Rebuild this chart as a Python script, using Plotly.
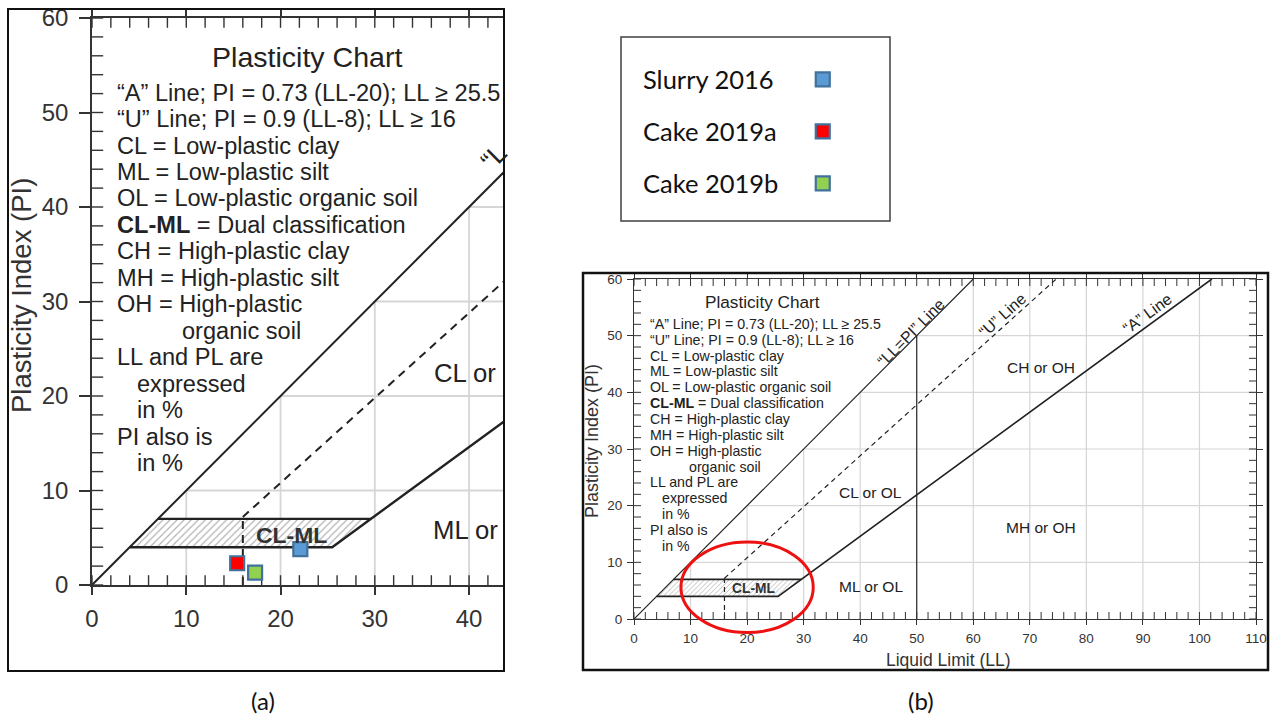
import plotly.graph_objects as go

W, H = 1273, 724

# ---------------- data ----------------
series_names = ["Slurry 2016", "Cake 2019a", "Cake 2019b"]
series_ll = [22.1, 15.4, 17.3]
series_pi = [3.8, 2.3, 1.3]
series_colors = ["#5B9BD5", "#FF0000", "#92D050"]
series_edge = "#41719C"

a_slope, a_ll0, a_start = 0.73, 20.0, 25.5
u_slope, u_ll0, u_start = 0.9, 8.0, 16.0
clml_pi = [4.0, 7.0]
ll_split = 50.0
pi_max = 60.0
ll_max_full = 110.0
ll_max_zoom = 43.6
grid_step = 10
minor_step = 2

chart_title = "Plasticity Chart"
key_lines = [
    "“A” Line; PI = 0.73 (LL-20); LL ≥ 25.5",
    "“U” Line; PI = 0.9 (LL-8); LL ≥ 16",
    "CL = Low-plastic clay",
    "ML = Low-plastic silt",
    "OL = Low-plastic organic soil",
    "<b>CL-ML</b> = Dual classification",
    "CH = High-plastic clay",
    "MH = High-plastic silt",
    "OH = High-plastic",
    "organic soil",
    "LL and PL are",
    "expressed",
    "in %",
    "PI also is",
    "in %",
]
key_indent = [2.45] * 9 + [9.3, 2.45, 4.6, 4.6, 2.45, 4.6]

labels_full = ["CH or OH", "CL or OL", "ML or OL", "MH or OH"]
labels_full_pos = [(71.9, 44.4, "center"), (35.9, 22.3, "left"), (35.9, 5.7, "left"), (71.9, 16.2, "center")]
labels_zoom = ["CL or", "ML or"]
labels_zoom_pos = [(36.1, 22.4), (36.0, 5.8)]
clml_label = "CL-ML"
line_labels = ["“LL=PI” Line", "“U” Line", "“A” Line"]
line_label_pos = [(49.0, 50.6, -45), (65.1, 53.6, -42), (90.8, 54.0, -36)]

x_title = "Liquid Limit (LL)"
y_title = "Plasticity Index (PI)"
captions = ["(a)", "(b)"]

# ---------------- helpers ----------------
def fx(p):
    return p / W


def fy(p):
    return 1 - p / H


TXT = "#222222"
AX = "#333333"
FONT = "Liberation Sans, Arial, sans-serif"

# panel pixel boxes (left, right, bottom, top)
A_BOX = (92, 503, 585, 18)
B_BOX = (634, 1256, 619, 279)

fig = go.Figure()


def add_chart(xa, ya, xmax, lw, lw_thin, dash, pat, gridw):
    # grid (visible only below the LL=PI line)
    gx, gy = [], []
    k = grid_step
    while k < pi_max:
        if k < xmax:
            gx += [k, xmax, None]
            gy += [k, k, None]
        k += grid_step
    k = grid_step
    while k < xmax:
        if k != ll_split:
            gx += [k, k, None]
            gy += [0, min(k, pi_max), None]
        k += grid_step
    fig.add_trace(go.Scatter(x=gx, y=gy, mode="lines", xaxis=xa, yaxis=ya,
                             line=dict(color="#d6d6d6", width=gridw),
                             hoverinfo="skip", showlegend=False))
    # hatched CL-ML zone
    lo, hi = clml_pi
    hx = [lo, a_ll0 + lo / a_slope, a_ll0 + hi / a_slope, hi, lo]
    hy = [lo, lo, hi, hi, lo]
    fig.add_trace(go.Scatter(x=hx, y=hy, mode="lines", fill="toself", xaxis=xa, yaxis=ya,
                             line=dict(width=0, color="rgba(0,0,0,0)"),
                             fillcolor="white",
                             fillpattern=dict(shape="/", fgcolor="#6a6a6a", bgcolor="white",
                                              size=pat, solidity=0.25),
                             hoverinfo="skip", showlegend=False))
    # U line (dashed) with vertical part at LL=16
    u_end = u_ll0 + pi_max / u_slope
    fig.add_trace(go.Scatter(x=[u_start, u_start, None, u_start, u_end],
                             y=[0, u_slope * (u_start - u_ll0), None,
                                u_slope * (u_start - u_ll0), pi_max],
                             mode="lines", xaxis=xa, yaxis=ya,
                             line=dict(color="#222", width=lw_thin, dash=dash),
                             hoverinfo="skip", showlegend=False))
    # LL = PI line
    fig.add_trace(go.Scatter(x=[0, pi_max], y=[0, pi_max], mode="lines", xaxis=xa, yaxis=ya,
                             line=dict(color="#222", width=lw_thin),
                             hoverinfo="skip", showlegend=False))
    # LL = 50 split
    fig.add_trace(go.Scatter(x=[ll_split, ll_split], y=[0, ll_split], mode="lines",
                             xaxis=xa, yaxis=ya, line=dict(color="#222", width=lw_thin),
                             hoverinfo="skip", showlegend=False))
    # A line + CL-ML outline
    a_end = a_ll0 + pi_max / a_slope
    fig.add_trace(go.Scatter(
        x=[lo, a_ll0 + lo / a_slope, a_end, None, hi, a_ll0 + hi / a_slope],
        y=[lo, lo, pi_max, None, hi, hi],
        mode="lines", xaxis=xa, yaxis=ya, line=dict(color="#222", width=lw),
        hoverinfo="skip", showlegend=False))


def add_minor_ticks(xa, ya, xmax, xlen, ylen, w, right_side):
    # small inward ticks every 2 units (outer half of each marker is clipped by the plot area)
    xs = list(range(0, int(xmax) + 1, minor_step))
    ys = list(range(0, int(pi_max) + 1, minor_step))
    mk = dict(color=AX, line=dict(color=AX, width=w))
    fig.add_trace(go.Scatter(x=xs + xs, y=[0] * len(xs) + [pi_max] * len(xs), mode="markers",
                             xaxis=xa, yaxis=ya, cliponaxis=True,
                             marker=dict(symbol="line-ns", size=2 * xlen, **mk),
                             hoverinfo="skip", showlegend=False))
    yx = [0] * len(ys) + ([xmax] * len(ys) if right_side else [])
    yy = ys + (ys if right_side else [])
    fig.add_trace(go.Scatter(x=yx, y=yy, mode="markers", xaxis=xa, yaxis=ya, cliponaxis=True,
                             marker=dict(symbol="line-ew", size=2 * ylen, **mk),
                             hoverinfo="skip", showlegend=False))


def add_text(xr, yr, s, zoom):
    fig.add_annotation(x=22.8, y=55.9, xref=xr, yref=yr, text=chart_title, showarrow=False,
                       xanchor="center", yanchor="middle",
                       font=dict(family=FONT, size=17.2 * s, color=TXT))
    for i, (t, ind) in enumerate(zip(key_lines, key_indent)):
        fig.add_annotation(x=ind, y=52.1 - 2.8 * i, xref=xr, yref=yr, text=t, showarrow=False,
                           xanchor="left", yanchor="middle",
                           font=dict(family=FONT, size=14.2 * s, color=TXT))
    fig.add_annotation(x=21.2, y=5.3, xref=xr, yref=yr, text="<b>" + clml_label + "</b>",
                       showarrow=False, xanchor="center", yanchor="middle",
                       font=dict(family=FONT, size=13.8 * s, color="#333"))
    if zoom:
        for t, (x, y) in zip(labels_zoom, labels_zoom_pos):
            fig.add_annotation(x=x, y=y, xref=xr, yref=yr, text=t, showarrow=False,
                               xanchor="left", yanchor="middle",
                               font=dict(family=FONT, size=15.5 * s, color=TXT))
        fig.add_annotation(x=42.6, y=45.3, xref=xr, yref=yr, text="“L", showarrow=False,
                           textangle=-45, xanchor="center", yanchor="middle",
                           font=dict(family=FONT, size=16 * s, color=TXT))
    else:
        for t, (x, y, anc) in zip(labels_full, labels_full_pos):
            fig.add_annotation(x=x, y=y, xref=xr, yref=yr, text=t, showarrow=False,
                               xanchor=anc, yanchor="middle",
                               font=dict(family=FONT, size=15.5 * s, color=TXT))
        for t, (x, y, ang) in zip(line_labels, line_label_pos):
            fig.add_annotation(x=x, y=y, xref=xr, yref=yr, text=t, showarrow=False,
                               textangle=ang, xanchor="center", yanchor="middle",
                               font=dict(family=FONT, size=16 * s, color=TXT))


S = 1.66
add_chart("x", "y", ll_max_zoom, 2.4, 2.0, "8px,6px", 5, 1.8)
add_chart("x2", "y2", ll_max_full, 1.6, 1.2, "5px,4px", 3.5, 1.2)
add_minor_ticks("x", "y", ll_max_zoom, 7, 8, 1.4, False)
add_minor_ticks("x2", "y2", ll_max_full, 5, 5, 1.0, True)

# data points on the zoomed chart
for n, ll, pi, c in zip(series_names, series_ll, series_pi, series_colors):
    fig.add_trace(go.Scatter(x=[ll], y=[pi], mode="markers", xaxis="x", yaxis="y", name=n,
                             marker=dict(symbol="square", size=14, color=c,
                                         line=dict(color=series_edge, width=2.2)),
                             showlegend=False))

# custom legend box (markers to the right of the names)
for i, (n, c) in enumerate(zip(series_names, series_colors)):
    fig.add_trace(go.Scatter(x=[0.75], y=[0.77 - 0.2825 * i], mode="markers", xaxis="x3", yaxis="y3",
                             marker=dict(symbol="square", size=14, color=c,
                                         line=dict(color=series_edge, width=2.2)),
                             hoverinfo="skip", showlegend=False))
    fig.add_annotation(x=0.074, y=0.77 - 0.2825 * i, xref="x3", yref="y3", text=n, showarrow=False,
                       xanchor="left", yanchor="middle",
                       font=dict(family="Lato, Carlito, sans-serif", size=25.5, color="#111"))

add_text("x", "y", S, True)
add_text("x2", "y2", 1, False)


def axis(box, horizontal, rng, dtick, ticklen, fsize, lw, standoff, mirror):
    if horizontal:
        dom = [fx(box[0]), fx(box[1])]
    else:
        dom = [fy(box[2]), fy(box[3])]
    return dict(domain=dom, range=rng, tickmode="linear", tick0=0, dtick=dtick,
                showgrid=False, zeroline=False, showline=True, linecolor=AX, linewidth=lw,
                mirror=mirror, ticks="outside", ticklen=ticklen, tickwidth=lw, tickcolor=AX,
                tickfont=dict(family=FONT, size=fsize, color="#333"),
                ticklabelstandoff=standoff, automargin=False, fixedrange=True)


xa = axis(A_BOX, True, [0, ll_max_zoom], 10, 8, 24, 1.6, 3, "ticks")
ya = axis(A_BOX, False, [0, pi_max], 10, 11, 24, 1.6, 6, False)
xb = axis(B_BOX, True, [0, ll_max_full], 10, 5, 13.5, 1.2, 2, "ticks")
yb = axis(B_BOX, False, [0, pi_max], 10, 6, 13.5, 1.2, 2, "ticks")
xa["anchor"] = "y"
ya["anchor"] = "x"
xb["anchor"] = "y2"
yb["anchor"] = "x2"

legend_box = (621, 890, 221, 37)

shapes = [
    dict(type="rect", xref="paper", yref="paper", x0=fx(8), x1=fx(504), y0=fy(671), y1=fy(9),
         line=dict(color="#111", width=2)),
    dict(type="rect", xref="paper", yref="paper", x0=fx(583), x1=fx(1268), y0=fy(670), y1=fy(273),
         line=dict(color="#111", width=2.5)),
    dict(type="rect", xref="paper", yref="paper", x0=fx(legend_box[0]), x1=fx(legend_box[1]),
         y0=fy(legend_box[2]), y1=fy(legend_box[3]), line=dict(color="#404040", width=1.5)),
]

# red ellipse highlighting the zoomed region on panel (b)
ell_c, ell_r = (20.0, 5.6), (11.7, 8.0)
shapes.append(dict(type="circle", xref="x2 domain", yref="y2 domain",
                   x0=(ell_c[0] - ell_r[0]) / ll_max_full, x1=(ell_c[0] + ell_r[0]) / ll_max_full,
                   y0=(ell_c[1] - ell_r[1]) / pi_max, y1=(ell_c[1] + ell_r[1]) / pi_max,
                   line=dict(color="#EE1111", width=3)))

annots = [
    dict(x=fx(21), y=fy(296), xref="paper", yref="paper", text=y_title, textangle=-90,
         showarrow=False, xanchor="center", yanchor="middle",
         font=dict(family=FONT, size=27.5, color="#333")),
    dict(x=fx(592), y=fy(441), xref="paper", yref="paper", text=y_title, textangle=-90,
         showarrow=False, xanchor="center", yanchor="middle",
         font=dict(family=FONT, size=18, color="#333")),
    dict(x=fx(948), y=fy(660), xref="paper", yref="paper", text=x_title,
         showarrow=False, xanchor="center", yanchor="middle",
         font=dict(family=FONT, size=17.5, color="#333")),
    dict(x=fx(263), y=fy(700), xref="paper", yref="paper", text=captions[0],
         showarrow=False, xanchor="center", yanchor="middle",
         font=dict(family="Lato, sans-serif", size=24, color="#111")),
    dict(x=fx(921), y=fy(700), xref="paper", yref="paper", text=captions[1],
         showarrow=False, xanchor="center", yanchor="middle",
         font=dict(family="Lato, sans-serif", size=24, color="#111")),
]
for a in annots:
    fig.add_annotation(**a)

fig.update_layout(
    width=W, height=H, margin=dict(l=0, r=0, t=0, b=0, pad=0, autoexpand=False),
    paper_bgcolor="white", plot_bgcolor="white",
    xaxis=xa, yaxis=ya, xaxis2=xb, yaxis2=yb,
    xaxis3=dict(domain=[fx(legend_box[0]), fx(legend_box[1])], range=[0, 1], visible=False,
                anchor="y3", fixedrange=True, automargin=False),
    yaxis3=dict(domain=[fy(legend_box[2]), fy(legend_box[3])], range=[0, 1], visible=False,
                anchor="x3", fixedrange=True, automargin=False),
    shapes=shapes, showlegend=False,
)

fig.write_html("out.html")
